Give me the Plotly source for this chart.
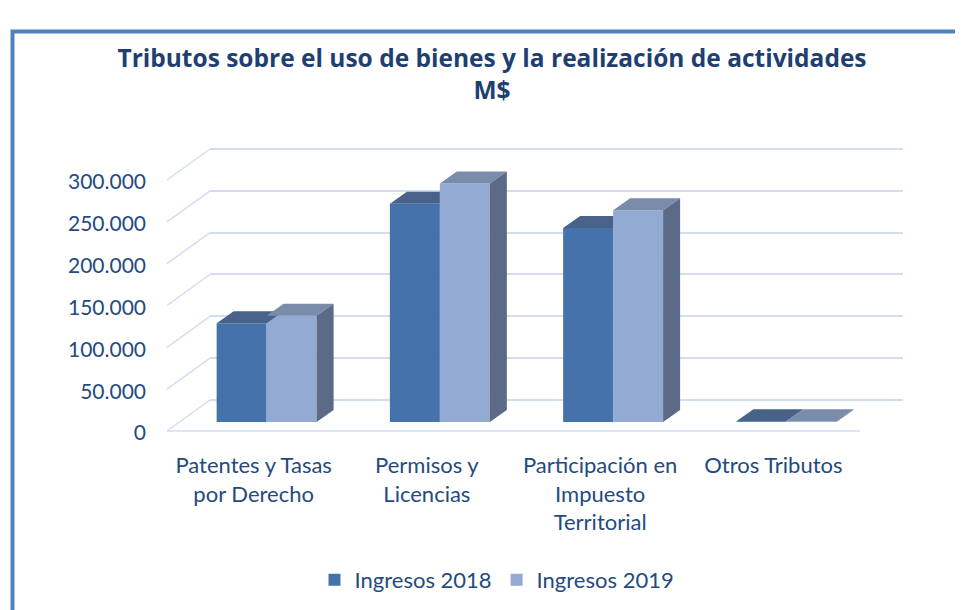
import plotly.graph_objects as go

# ---------------- data ----------------
categories = ["Patentes y Tasas<br>por Derecho", "Permisos y<br>Licencias",
              "Participación en<br>Impuesto<br>Territorial", "Otros Tributos"]
ingresos_2018 = [118000, 261000, 232000, 800]
ingresos_2019 = [127000, 285000, 253000, 900]
series_names = ["Ingresos 2018", "Ingresos 2019"]
y_tick_values = [0, 50000, 100000, 150000, 200000, 250000, 300000]
y_tick_labels = ["0", "50.000", "100.000", "150.000", "200.000", "250.000", "300.000"]

# ---------------- geometry (pixels, page coordinates) ----------------
PAGE_OFFSET = 8                          # default body margin of the html page
W, H = 963 - PAGE_OFFSET, 610 - PAGE_OFFSET
def px(x):
    return (x - PAGE_OFFSET) / W
def py(y):
    return 1 - (y - PAGE_OFFSET) / H

FRONT_LEFT, FRONT_RIGHT = 167, 860      # front plane (floor edge)
DEPTH_X, DEPTH_Y = 43, 31               # front plane -> back wall
BAR_SHIFT_X, BAR_SHIFT_Y = 13, 9        # front plane -> bar plane
FRONT_ZERO = 431
PX_PER_UNIT = 251 / 300000
Y_MAX = 350000
WALL_MAX = 320000
BAR_DEPTH = (17, 12)                    # bar thickness in px
BARGAP = 0.423

bar_zero = FRONT_ZERO - BAR_SHIFT_Y
wall_zero = FRONT_ZERO - DEPTH_Y

GRID = "#D3DDF0"
TEXT = "#244A80"
C18, C19 = "#4672AB", "#93AAD3"
TOP18, TOP19, SIDE19 = "#49628A", "#7A8CA9", "#5B6B87"
FONT = "Lato"

x_pos = list(range(len(categories)))
unit_px = (FRONT_RIGHT - FRONT_LEFT) / len(categories)
dx = BAR_DEPTH[0] / unit_px
dy = BAR_DEPTH[1] / PX_PER_UNIT
bw = (1 - BARGAP) / 2

fig = go.Figure()
# back wall subplot (gridlines only)
fig.add_trace(go.Scatter(x=[], y=[], xaxis="x", yaxis="y", showlegend=False, hoverinfo="skip"))

fig.add_trace(go.Bar(x=x_pos, y=ingresos_2018, name=series_names[0], marker_color=C18,
                     marker_line_width=0, xaxis="x2", yaxis="y2"))
fig.add_trace(go.Bar(x=x_pos, y=ingresos_2019, name=series_names[1], marker_color=C19,
                     marker_line_width=0, xaxis="x2", yaxis="y2"))

# 3D faces derived from the same values
top18_x, top18_y, top19_x, top19_y, side_x, side_y = [], [], [], [], [], []
for i, (a, b) in zip(x_pos, zip(ingresos_2018, ingresos_2019)):
    x0, x1, x2 = i - bw, i, i + bw
    if b >= a + dy:
        top18_x += [x0, x1, x1, x0 + dx, x0, None]
        top18_y += [a, a, a + dy, a + dy, a, None]
    else:
        top18_x += [x0, x1, x1 + dx, x0 + dx, x0, None]
        top18_y += [a, a, a + dy, a + dy, a, None]
    top19_x += [x1, x2, x2 + dx, x1 + dx, x1, None]
    top19_y += [b, b, b + dy, b + dy, b, None]
    side_x += [x2, x2, x2 + dx, x2 + dx, x2, None]
    side_y += [0, b, b + dy, dy, 0, None]

for xs, ys, col in [(top18_x, top18_y, TOP18), (top19_x, top19_y, TOP19), (side_x, side_y, SIDE19)]:
    fig.add_trace(go.Scatter(x=xs, y=ys, fill="toself", fillcolor=col, mode="lines",
                             line=dict(width=0, color=col), xaxis="x2", yaxis="y2",
                             showlegend=False, hoverinfo="skip"))

# diagonal gridline segments + floor front edge
shapes = []
for v in y_tick_values:
    shapes.append(dict(type="line", xref="paper", yref="paper", layer="below",
                       x0=px(FRONT_LEFT), y0=py(FRONT_ZERO - v * PX_PER_UNIT),
                       x1=px(FRONT_LEFT + DEPTH_X), y1=py(wall_zero - v * PX_PER_UNIT),
                       line=dict(color=GRID, width=1.5)))
shapes.append(dict(type="line", xref="paper", yref="paper", layer="below",
                   x0=px(FRONT_LEFT), y0=py(FRONT_ZERO), x1=px(FRONT_RIGHT), y1=py(FRONT_ZERO),
                   line=dict(color=GRID, width=1.5)))
# chart-area border
shapes.append(dict(type="rect", xref="paper", yref="paper",
                   x0=px(12.5), y0=py(31.5), x1=px(1100), y1=py(800),
                   line=dict(color="#4F81BD", width=4)))

fig.update_layout(
    width=W, height=H,
    margin=dict(l=0, r=0, t=0, b=0, autoexpand=False),
    paper_bgcolor="white", plot_bgcolor="rgba(0,0,0,0)",
    font=dict(family=FONT, color=TEXT, size=21),
    title=dict(text="<b>Tributos sobre el uso de bienes y la realización de actividades<br>M$</b>",
               x=px(492), xanchor="center", y=py(67), yanchor="top", automargin=False,
               font=dict(family="Open Sans", size=24.5, color="#1F3F73")),
    barmode="group", bargap=BARGAP, bargroupgap=0,
    showlegend=True,
    legend=dict(orientation="h", x=px(497), xanchor="center", y=py(580), yanchor="middle",
                font=dict(size=22, color=TEXT), traceorder="normal"),
    shapes=shapes,
    xaxis=dict(domain=[px(FRONT_LEFT + DEPTH_X), px(FRONT_RIGHT + DEPTH_X)], range=[0, 1],
               showticklabels=False, showgrid=False, zeroline=False, showline=False,
               anchor="y", fixedrange=True, automargin=False),
    yaxis=dict(domain=[py(wall_zero), py(wall_zero - WALL_MAX * PX_PER_UNIT)], range=[0, WALL_MAX],
               tickvals=y_tick_values, showticklabels=False, showgrid=True, gridcolor=GRID,
               gridwidth=1.5, zeroline=True, zerolinecolor=GRID, zerolinewidth=1.5,
               showline=False, anchor="x", fixedrange=True, automargin=False),
    xaxis2=dict(domain=[px(FRONT_LEFT + BAR_SHIFT_X), px(FRONT_RIGHT + BAR_SHIFT_X)],
                range=[-0.5, len(categories) - 0.5], tickvals=x_pos, ticktext=categories,
                showgrid=False, zeroline=False, showline=False, ticks="",
                ticklabelshift=-BAR_SHIFT_X, ticklabelstandoff=28, automargin=False,
                tickfont=dict(size=22, color=TEXT), anchor="y2", fixedrange=True),
    yaxis2=dict(domain=[py(bar_zero), py(bar_zero - Y_MAX * PX_PER_UNIT)], range=[0, Y_MAX],
                tickvals=y_tick_values, ticktext=y_tick_labels, showgrid=False, zeroline=False,
                showline=False, ticks="", ticklabelshift=11, ticklabelstandoff=33, automargin=False,
                tickfont=dict(size=21, color=TEXT), anchor="x2", fixedrange=True),
)

fig.write_html("out.html")
